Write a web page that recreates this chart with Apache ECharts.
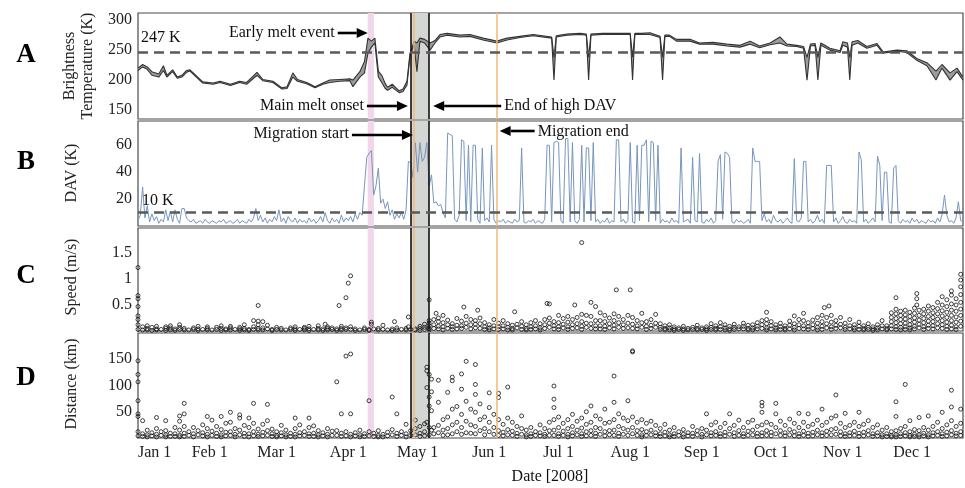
<!DOCTYPE html>
<html><head><meta charset="utf-8">
<script src="https://cdn.jsdelivr.net/npm/echarts@6/dist/echarts.min.js"></script>
<style>html,body{margin:0;padding:0;background:#fff}#c{width:965px;height:488px}</style>
</head><body><div id="c"></div>
<script>
// ---------- DATA ----------
const monthDays = [0,31,60,91,121,152,182,213,244,274,305,335];
const monthLabels = ['Jan 1','Feb 1','Mar 1','Apr 1','May 1','Jun 1','Jul 1','Aug 1','Sep 1','Oct 1','Nov 1','Dec 1'];
const tbTicks = [150,200,250,300];
const davTicks = [20,40,60];
const speedTicks = [0.5,1,1.5];
const distTicks = [50,100,150];

const earlyMelt = [99.4,102.1];
const meltOnset = 118.1;
const endHighDav = 126;
const migStart = 119.4;
const migEnd = 155.2;
const tbThreshold = 247;
const davThreshold = 10;

// Panel A: brightness temperature (two channels), day of year 2008 (Jan 1 = 0)
const tbDay = [0,2,4,6,9,11,12.5,15,17,19,21,22.5,25.5,28,32.5,35.5,40,44,47,51.5,54,58.4,62.3,64.5,67,69,73,76.6,80,83,87.4,91.7,93,96,98,99.5,101,102.5,104,105.6,107,108,110,113,114.7,116.4,117.7,118.6,119.5,120.7,122,124,126.4,128.5,130.7,133.7,139.3,143.7,149.3,155.3,159.7,165.3,171,179,180,181,185.6,191.3,194,195,196,201,208.6,213,214,215,218,221.5,225.9,227,228,230,233,238.9,243,248.8,254.9,260.5,264.9,269,273.5,277.8,280.8,285,288,289.5,291,293,294.2,295.5,299.4,303.8,305,307,308,309,311.5,315.4,319.8,322.4,328.4,332.7,337,341.4,345.3,347.9,351.4,354.4,357];
const tbHigh = [220,226,222,214,210,224,208,217,205,208,216,217,206,197,195,198,193,198,196,213,201,198,187,189,212,201,196,189,195,200,201,202,200,214,231,270,265,270,215,207,194,188,193,182,185,198,245,254,265,262,270,268,262,266,276,278,275,276,270,265,270,273,276,272,238,274,277,278,277,238,277,278,278,278,238,278,278,279,273,238,275,275,268,268,262,263,260,258,265,257,262,272,260,258,256,238,260,261,238,262,253,249,264,262,238,264,266,256,261,247,250,249,236,229,215,226,212,220,205];
const tbLow = [216,222,218,208,205,216,205,214,203,205,213,215,204,195,193,196,191,196,193,208,199,196,185,186,205,198,194,187,193,196,198,199,189,205,212,245,255,262,205,195,186,183,188,179,181,192,240,250,258,214,265,262,250,262,272,275,272,273,267,262,267,271,274,270,200,272,275,276,275,200,275,276,276,276,200,276,276,276,271,200,273,273,265,265,260,260,257,255,260,254,259,262,257,256,253,200,257,258,200,258,250,246,258,255,200,258,262,253,258,245,248,246,233,224,200,220,200,214,200];

// Panel B: DAV (K), one value per day from Jan 1
const davK = [
4,8,29,6,15,3,9,4,7,2, 5,3,12,4,11,3,12,5,2,13, 13,6,4,3,5,2,3,4,2,5, 3,2,4,3,2,4,3,5,2,3,
4,2,3,5,2,4,3,2,5,3, 6,13,4,8,3,6,2,5,3,7, 4,12,3,6,2,7,4,3,6,2, 5,3,4,2,6,3,5,2,4,7,
3,10,4,2,6,3,5,2,8,3, 6,4,7,3,9,5,10,8,30,51, 54,56,23,30,43,17,20,13,18,8, 12,5,9,6,10,5,12,48,47,36,
62,40,62,48,51,62,30,38,17,18, 15,16,10,6,69,68,67,5,3,8, 64,63,4,60,3,60,60,5,2,58, 4,6,3,60,5,2,4,3,5,2,
4,3,2,5,3,4,58,3,2,4, 3,5,2,4,3,2,5,60,60,3, 62,63,62,4,2,65,65,3,62,4, 2,5,60,3,58,58,4,62,3,5,
2,4,3,6,2,4,3,64,64,3, 5,2,4,62,3,2,60,4,60,60, 64,3,63,62,4,60,2,5,3,4, 2,6,3,4,2,58,3,4,5,2,
51,4,3,54,3,2,5,3,6,2, 4,48,53,5,55,54,51,3,2,5, 3,4,2,3,5,2,58,48,48,48, 4,9,3,5,2,8,4,3,5,2,
4,6,3,2,50,4,3,6,48,48, 3,5,2,4,8,3,5,2,45,45, 45,3,6,2,4,7,3,2,5,3, 4,2,55,49,3,5,2,4,6,3,
52,45,4,40,40,3,2,43,45,4, 2,5,3,4,2,6,3,5,2,4, 3,2,5,3,4,2,6,3,9,23, 8,3,4,2,6,18,4,3];

// Panel C: speed (m/s), [day, values...]
const speedGroups = [
[0,1.22,0.68,0.62,0.47,0.29,0.22,0.12,0.03],[2,0.08,0.02],[4,0.1,0.05,0.02],[6,0.07,0.01],[8,0.09,0.04,0.02],[10,0.03],
[12,0.08,0.05,0.01],[14,0.1,0.06,0.02],[16,0.04,0.01],[18,0.12,0.07,0.03],[20,0.05,0.02],
[22,0.02],[24,0.06,0.03],[26,0.09,0.04,0.01],[28,0.03],[30,0.08,0.05,0.02],
[32,0.02],[34,0.07,0.03],[36,0.1,0.05,0.01],[38,0.04,0.02],[40,0.09,0.06,0.02],
[42,0.03],[44,0.07,0.04,0.01],[46,0.12,0.05,0.02],[48,0.03,0.01],[50,0.2,0.08,0.03],
[52,0.49,0.19,0.12,0.05,0.02],[54,0.18,0.06,0.02],[56,0.11,0.04],[58,0.03,0.01],[60,0.07,0.03],
[62,0.05,0.02],[64,0.02],[66,0.06,0.03],[68,0.08,0.04,0.01],[70,0.03],
[72,0.07,0.05,0.02],[74,0.09,0.04,0.01],[76,0.03],[78,0.1,0.05,0.02],[80,0.04,0.01],
[81,0.13],[82,0.08,0.05,0.02],[84,0.06,0.03],[86,0.04,0.01],[87,0.49],[88,0.09,0.05,0.02],
[90,0.64,0.06,0.03],[91,0.92],[92,1.06,0.08,0.03],[94,0.04,0.01],[96,0.02],
[98,0.06,0.03],[100,0.03,0.01],[101,0.17,0.13],[102,0.04],[104,0.05,0.02],[106,0.11,0.03],
[108,0.02],[110,0.04,0.01],[111,0.18],[112,0.06,0.02],[114,0.03],[116,0.05,0.02],
[117,0.27,0.08],[118,0.03],[120,0.04,0.02],[122,0.09,0.05,0.01],[124,0.13,0.07,0.03],
[126,0.6,0.2,0.15,0.1,0.05,0.02],[128,0.22,0.12,0.05],[129,0.34],[130,0.25,0.18,0.09,0.04],
[132,0.3,0.16,0.08,0.02],[134,0.21,0.12,0.05],[136,0.14,0.08,0.03],[138,0.24,0.11,0.04],
[140,0.19,0.1,0.05],[141,0.46],[142,0.28,0.15,0.07],[144,0.22,0.12,0.04],[146,0.2,0.13,0.06],
[147,0.4],[148,0.25,0.14,0.05],[150,0.16,0.08,0.03],[152,0.12,0.06,0.02],[154,0.22,0.1,0.04],
[156,0.15,0.08,0.03],[158,0.2,0.1,0.04],[160,0.14,0.07,0.02],[162,0.11,0.05,0.02],
[163,0.37],[164,0.13,0.06],[166,0.18,0.09,0.03],[168,0.12,0.05,0.02],[170,0.16,0.08,0.03],
[172,0.2,0.1,0.04],[174,0.14,0.06,0.02],[176,0.22,0.12,0.05],[177,0.53],[178,0.52,0.25,0.15,0.07],
[180,0.18,0.1,0.04],[182,0.3,0.16,0.08,0.03],[184,0.24,0.13,0.06],[186,0.28,0.17,0.08,0.03],
[188,0.22,0.12,0.05],[189,0.5],[190,0.26,0.14,0.06],[192,1.7,0.32,0.18,0.09,0.03],
[194,0.3,0.15,0.07],[196,0.55,0.28,0.14,0.05],[198,0.47,0.2,0.1,0.04],[200,0.35,0.2,0.1,0.04],
[202,0.3,0.18,0.09,0.03],[204,0.25,0.14,0.06],[206,0.33,0.2,0.11,0.04],[207,0.79],
[208,0.28,0.16,0.07],[210,0.22,0.12,0.05],[212,0.3,0.15,0.06],[213,0.79],[214,0.26,0.13,0.05],
[216,0.2,0.1,0.04],[218,0.34,0.16,0.07],[220,0.18,0.09,0.03],[222,0.22,0.11,0.05],
[224,0.32,0.15,0.07],[226,0.14,0.07,0.03],[228,0.1,0.05,0.02],[230,0.12,0.06,0.02],
[232,0.08,0.04,0.01],[234,0.06,0.03],[236,0.09,0.04,0.01],[238,0.05,0.02],[240,0.07,0.03],
[242,0.11,0.05,0.02],[244,0.06,0.03],[246,0.08,0.04,0.01],[248,0.14,0.07,0.03],[250,0.1,0.05,0.02],
[252,0.16,0.08,0.03],[254,0.12,0.06,0.02],[256,0.09,0.04,0.01],[258,0.13,0.07,0.03],[260,0.08,0.04],
[262,0.15,0.09,0.04],[264,0.11,0.05,0.02],[266,0.12,0.06,0.02],[268,0.16,0.09,0.04],
[270,0.2,0.12,0.05],[272,0.36,0.22,0.14,0.06,0.02],[274,0.18,0.1,0.04],[276,0.12,0.06,0.02],
[278,0.15,0.08,0.03],[280,0.1,0.05,0.02],[282,0.19,0.11,0.04],[284,0.29,0.14,0.07,0.02],
[286,0.22,0.12,0.05],[288,0.34,0.2,0.1,0.04],[290,0.16,0.08,0.03],[292,0.21,0.12,0.05],
[294,0.26,0.15,0.07,0.02],[296,0.3,0.18,0.09,0.03],[297,0.45],[298,0.26,0.14,0.06],[299,0.48],
[300,0.3,0.17,0.08,0.03],[302,0.2,0.11,0.05],[304,0.26,0.13,0.06],[306,0.15,0.07,0.03],
[308,0.22,0.1,0.04],[310,0.12,0.06,0.02],[312,0.17,0.09,0.03],[314,0.1,0.05,0.02],
[316,0.14,0.07,0.03],[318,0.08,0.04,0.01],[320,0.12,0.06,0.02],[322,0.2,0.1,0.04],
[324,0.1,0.05,0.02],[326,0.35,0.26,0.18,0.1,0.04],[328,0.64,0.42,0.33,0.24,0.16,0.08,0.03],
[330,0.38,0.3,0.22,0.14,0.07,0.02],[332,0.4,0.31,0.23,0.15,0.08,0.03],[334,0.36,0.28,0.2,0.12,0.06,0.02],
[336,0.44,0.34,0.25,0.17,0.09,0.04],[337,0.72,0.62,0.5],[338,0.4,0.3,0.21,0.13,0.06],
[340,0.42,0.33,0.24,0.16,0.08,0.03],[342,0.48,0.38,0.28,0.19,0.11,0.05],[344,0.45,0.35,0.26,0.18,0.1,0.04],
[346,0.55,0.43,0.33,0.23,0.14,0.06],[348,0.66,0.5,0.39,0.29,0.2,0.12,0.05],
[350,0.6,0.47,0.36,0.26,0.17,0.09,0.03],[352,0.77,0.69,0.52,0.4,0.3,0.2,0.11,0.04],
[354,0.62,0.5,0.38,0.27,0.17,0.08,0.03],[356,1.09,0.98,0.85,0.7,0.55,0.42,0.3,0.19,0.09]];

// Panel D: distance (km), [day, values...]
const distGroups = [
[0,147,121,107,71,46,41,12,4],[2,33,8,3],[4,15,6,2],[6,10,4],[8,39,18,7,2],[10,12,5],
[12,33,14,6,2],[14,9,3],[16,20,8,3],[18,42,32,15,5,2],[20,66,46,22,9,3],[22,12,5],
[24,20,8,2],[26,14,6],[28,25,10,4],[30,41,18,7,2],[32,34,13,5],[34,22,9,3],
[36,41,16,6,2],[38,28,11,4],[40,49,30,12,5],[42,18,7,2],[44,44,38,15,6],[46,24,9,3],
[48,38,20,8,2],[50,66,28,12,4],[52,17,7,3],[54,26,11,4],[56,64,33,14,5],[58,17,8,3],
[60,12,5,2],[62,24,10,4],[64,15,6,2],[66,9,3],[68,38,18,7,2],[70,25,10,4],[72,12,5],
[74,38,20,8,3],[76,23,9,3],[78,14,6,2],[80,10,4],[82,18,7,2],[84,13,5],[86,107,14,5],
[88,46,9,3],[90,156,12,4],[92,160,46,7,2],[94,10,4],[96,15,6,2],[98,8,3],[100,71,12,4],
[102,9,3],[104,14,5,2],[106,7,2],[108,11,4],[110,78,16,6],[112,46,9,3],[114,12,5],
[116,26,8,2],[118,14,5],[120,34,18,6],[122,22,9,3],[124,27,12,4],[125,135,128,96,30],
[126,121,78,61,20,6],[127,112,88,52,15],[128,20,8],[130,68,110,24,10],[132,35,15,5],
[134,87,40,18,6],[136,109,116,55,25,8],[138,60,30,12],[140,93,122,45,20,7],[142,146,70,32,10],
[144,55,25,9],[146,140,102,83,49,22,8],[148,65,35,14],[150,40,18,6],[152,86,58,30,12],
[154,45,20,7],[156,85,77,35,14,5],[158,26,11,4],[160,97,38,16,6],[162,30,13,5],[164,22,9,3],
[166,42,18,7],[168,15,6,2],[170,20,8,3],[172,12,5],[174,25,10,4],[176,18,7,3],[178,30,14,5],
[180,99,74,58,35,15,5],[182,40,20,8,3],[184,28,13,5],[186,35,18,7,2],[188,45,22,10,4],
[190,32,15,6],[192,38,19,8,3],[194,50,26,12,4],[196,61,30,14,5],[198,42,20,9,3],[200,36,18,7],
[202,55,28,12,4],[204,30,14,6],[206,118,68,35,15,5],[208,46,22,9,3],[210,38,18,7],
[212,71,33,15,5],[214,164,166,40,20,8],[216,30,14,5],[218,35,16,6,2],[220,28,12,5],
[222,32,15,6],[224,24,10,4],[226,18,8,3],[228,26,11,4],[230,15,6,2],[232,20,8,3],[234,12,5],
[236,16,7,2],[238,10,4],[240,22,9,3],[242,14,6],[244,18,7,2],[246,46,15,6],[248,25,10,4],
[250,30,12,5],[252,20,8,3],[254,28,11,4],[256,46,18,7],[258,24,10,3],[260,34,14,5],
[262,20,8,3],[264,30,13,5],[266,34,15,6],[268,22,9,3],[270,68,61,49,25,10,4],[272,30,14,5],
[274,26,11,4],[276,66,46,20,8],[278,32,14,5],[280,24,10,4],[282,36,16,6],[284,28,12,4],
[286,47,20,8,3],[288,30,13,5],[290,46,22,9,3],[292,26,11,4],[294,34,15,6],[296,55,24,10,4],
[298,30,13,5],[300,38,16,6],[302,82,42,18,7],[304,28,12,4],[306,47,20,8,3],[308,24,10,4],
[310,30,13,5],[312,49,22,9,3],[314,26,11,4],[316,33,14,6],[318,20,8,3],[320,25,10,4],
[322,15,6,2],[324,20,8,3],[326,12,5,2],[328,69,41,14,6,2],[330,18,8,3],[332,102,22,10,4],
[334,33,12,5,2],[336,16,7,3],[338,39,14,6,2],[340,20,9,4],[342,42,15,6,2],[344,22,10,4],
[346,30,12,5],[348,49,18,8,3],[350,25,11,4],[352,91,59,33,14,6],[354,22,9,4],[356,55,28,12,5]];

// ---------- CHART ----------
const FONT = '"Liberation Serif","Times New Roman",serif';
const chart = echarts.init(document.getElementById('c'), null, {renderer:'canvas'});

const gridDefs = [
  {top:13, height:106}, {top:121, height:105}, {top:228, height:103}, {top:333, height:105}
];
const grids = gridDefs.map(g => ({left:138, width:825, top:g.top, height:g.height, show:true,
  borderColor:'#4a4a4a', borderWidth:1.2, backgroundColor:'rgba(0,0,0,0)'}));

const xAxes = gridDefs.map((g,i) => ({
  gridIndex:i, type:'value', min:0, max:357,
  axisLine:{show:false}, axisTick:{show:false}, splitLine:{show:false},
  axisLabel: i===3 ? {customValues:monthDays, formatter:v => monthLabels[monthDays.indexOf(v)],
     fontFamily:FONT, fontSize:16, color:'#222', margin:7, alignMinLabel:'left'} : {show:false}
}));
function yAx(i,min,max,ticks){
  return {gridIndex:i, type:'value', min:min, max:max,
    axisLine:{show:false}, axisTick:{show:false}, splitLine:{show:false},
    axisLabel:{customValues:ticks, fontFamily:FONT, fontSize:16, color:'#222', margin:6}};
}
const yAxes = [yAx(0,135,312,tbTicks), yAx(1,0,78,davTicks), yAx(2,0,1.98,speedTicks), yAx(3,0,200,distTicks)];

function helper(i){
  return {type:'line', xAxisIndex:i, yAxisIndex:i, data:[], z:1, silent:true,
    markArea:{silent:true, data:[
      [{xAxis:earlyMelt[0], itemStyle:{color:'#f2d6ea'}},{xAxis:earlyMelt[1]}],
      [{xAxis:meltOnset, itemStyle:{color:'#d4d6d4'}},{xAxis:endHighDav}]
    ]},
    markLine:{silent:true, symbol:'none', label:{show:false}, animation:false, data:[
      {xAxis:migStart, lineStyle:{color:'#f2b978', width:1.5, type:'solid'}},
      {xAxis:migEnd, lineStyle:{color:'#f2b978', width:1.5, type:'solid'}},
      {xAxis:meltOnset, lineStyle:{color:'#111', width:1.6, type:'solid'}},
      {xAxis:endHighDav, lineStyle:{color:'#111', width:1.6, type:'solid'}}
    ]}};
}
function dashed(i, val){
  return {type:'line', xAxisIndex:i, yAxisIndex:i, data:[], z:6, silent:true,
    markLine:{silent:true, symbol:'none', label:{show:false}, animation:false,
      data:[{yAxis:val, lineStyle:{color:'#5a5a5a', width:2.5, type:[10,6]}}]}};
}
const scatterStyle = {color:'rgba(255,255,255,0)', borderColor:'#111', borderWidth:1};
const flat = groups => groups.flatMap(g => g.slice(1).map(v => [g[0], v]));

const series = [
  helper(0), helper(1), helper(2), helper(3),
  {type:'custom', xAxisIndex:0, yAxisIndex:0, z:3, silent:true, data:[[0,200]],
   renderItem:(params, api) => {
     const pts = [];
     for (let i=0;i<tbDay.length;i++) pts.push(api.coord([tbDay[i], tbHigh[i]]));
     for (let i=tbDay.length-1;i>=0;i--) pts.push(api.coord([tbDay[i], tbLow[i]]));
     return {type:'polygon', shape:{points:pts}, style:{fill:'#9c9c9c'}};
   }},
  {type:'line', xAxisIndex:0, yAxisIndex:0, z:4, symbol:'none', silent:true,
   data:tbDay.map((d,i)=>[d,tbHigh[i]]), lineStyle:{color:'#333', width:1.1}},
  {type:'line', xAxisIndex:0, yAxisIndex:0, z:4, symbol:'none', silent:true,
   data:tbDay.map((d,i)=>[d,tbLow[i]]), lineStyle:{color:'#333', width:1.1}},
  dashed(0, tbThreshold),
  {type:'line', xAxisIndex:1, yAxisIndex:1, z:4, symbol:'none', silent:true,
   data:davK.map((v,i)=>[i,v]), lineStyle:{color:'#7896bd', width:1}},
  dashed(1, davThreshold),
  {type:'scatter', xAxisIndex:2, yAxisIndex:2, z:4, silent:true, symbol:'circle', symbolSize:4,
   data:flat(speedGroups), itemStyle:scatterStyle},
  {type:'scatter', xAxisIndex:3, yAxisIndex:3, z:4, silent:true, symbol:'circle', symbolSize:4,
   data:flat(distGroups), itemStyle:scatterStyle}
];

chart.setOption({animation:false, backgroundColor:'#fff', grid:grids, xAxis:xAxes, yAxis:yAxes, series:series});

// ---------- ANNOTATIONS ----------
const px = d => chart.convertToPixel({xAxisIndex:0}, d);
const TXT = '16px ' + FONT;
function text(t, x, y, align, extra){
  return Object.assign({type:'text', x:x, y:y, z:100, silent:true,
    style:{text:t, font:TXT, fill:'#111', textAlign:align||'left', textVerticalAlign:'middle'}}, extra||{});
}
function vtext(t, x, y){
  return {type:'text', x:x, y:y, rotation:Math.PI/2, z:100, silent:true,
    style:{text:t, font:TXT, fill:'#222', textAlign:'center', textVerticalAlign:'middle'}};
}
function letter(t, x, y){
  return {type:'text', x:x, y:y, z:100, silent:true,
    style:{text:t, font:'bold 27px ' + FONT, fill:'#000', textAlign:'center', textVerticalAlign:'middle'}};
}
function arrow(from, tip, y){
  const dir = tip > from ? 1 : -1;
  const base = tip - dir*11;
  return [
    {type:'line', z:100, silent:true, shape:{x1:from, y1:y, x2:base, y2:y}, style:{stroke:'#000', lineWidth:2.6}},
    {type:'polygon', z:100, silent:true, shape:{points:[[tip,y],[base,y-5],[base,y+5]]}, style:{fill:'#000'}}
  ];
}
const xEarly = px(earlyMelt[0]), xOnset = px(meltOnset), xEnd = px(endHighDav), xMs = px(migStart), xMe = px(migEnd);
const graphics = [
  letter('A', 26, 55), letter('B', 26, 162), letter('C', 26, 276), letter('D', 26, 378),
  vtext('Brightness', 70, 66), vtext('Temperature (K)', 88, 66),
  vtext('DAV (K)', 72, 173), vtext('Speed (m/s)', 72, 277), vtext('Distance (km)', 72, 384),
  text('247 K', 141, 38), text('10 K', 142, 201),
  text('Early melt event', xEarly - 33, 33, 'right'),
  text('Main melt onset', xOnset - 47, 106, 'right'),
  text('End of high DAV', xEnd + 75, 106, 'left'),
  text('Migration start', xMs - 65, 134, 'right'),
  text('Migration end', xMe + 41, 132, 'left'),
  text('Date [2008]', 550, 477, 'center'),
  ...arrow(xEarly - 30, xEarly, 33),
  ...arrow(xOnset - 44, xOnset - 3, 106),
  ...arrow(xEnd + 72, xEnd + 4, 106),
  ...arrow(xMs - 62, xMs - 1, 135),
  ...arrow(xMe + 38, xMe + 3, 131)
];
chart.setOption({graphic:{elements:graphics}});
</script>
</body></html>
